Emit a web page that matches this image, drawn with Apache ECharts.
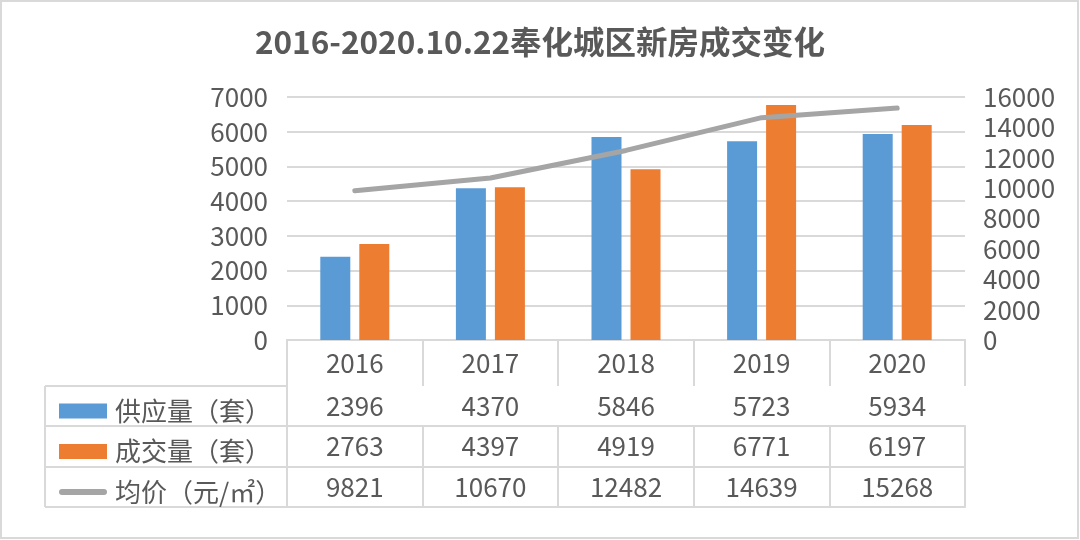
<!DOCTYPE html>
<html>
<head>
<meta charset="utf-8">
<script src="https://cdn.jsdelivr.net/npm/echarts@6/dist/echarts.min.js"></script>
<style>html,body{margin:0;padding:0;background:#fff}#c{width:1080px;height:540px}</style>
</head>
<body>
<div id="c"></div>
<script>
var years = ['2016', '2017', '2018', '2019', '2020'];
var supply = [2396, 4370, 5846, 5723, 5934];
var deals = [2763, 4397, 4919, 6771, 6197];
var price = [9821, 10670, 12482, 14639, 15268];
var nameSupply = '供应量（套）';
var nameDeals = '成交量（套）';
var namePrice = '均价（元/㎡）';
var titleText = '2016-2020.10.22奉化城区新房成交变化';

var FONT = "'Noto Sans CJK SC', 'Noto Sans', sans-serif";
var TXT = '#595959';
var GRID = '#d9d9d9';

function tableAxis(data, offset, tickLen, margin, showLabel) {
  return {
    type: 'category', position: 'bottom', offset: offset, data: data,
    axisLine: { show: true, lineStyle: { color: GRID, width: 2 } },
    axisTick: { show: tickLen > 0, length: tickLen, interval: 0, lineStyle: { color: GRID, width: 2 } },
    axisLabel: { show: showLabel, interval: 0, margin: margin, fontSize: 26, lineHeight: 26, color: TXT, fontFamily: FONT },
    splitLine: { show: false }
  };
}
function plain(v) { return String(v); }

var chart = echarts.init(document.getElementById('c'), null, { renderer: 'canvas' });
chart.setOption({
  backgroundColor: '#fff',
  animation: false,
  textStyle: { fontFamily: FONT },
  title: {
    text: titleText, left: 'center', top: 21,
    textStyle: { fontSize: 31.5, fontWeight: 'bold', color: TXT, fontFamily: FONT }
  },
  legend: {
    orient: 'vertical', left: 54, top: 393, itemWidth: 48, itemHeight: 15, itemGap: 14.5,
    textStyle: { fontSize: 26, color: TXT, fontFamily: FONT, lineHeight: 26, padding: [0, 0, 0, 3] },
    data: [
      { name: nameSupply, icon: 'rect' },
      { name: nameDeals, icon: 'rect' },
      { name: namePrice, icon: 'path://M0,0 M48,15 M3,4.5 L45,4.5 A3,3 0 0 1 45,10.5 L3,10.5 A3,3 0 0 1 3,4.5 Z' }
    ]
  },
  grid: { left: 287, right: 115, top: 97, bottom: 200, containLabel: false },
  xAxis: [
    tableAxis(years, 0, 46, 10, true),
    tableAxis(supply.map(String), 46, 40, 7, true),
    tableAxis(deals.map(String), 86, 41, 7, true),
    tableAxis(price.map(String), 127, 40, 7, true),
    tableAxis(years, 167, 0, 7, false)
  ],
  yAxis: [
    {
      type: 'value', min: 0, max: 7000, interval: 1000,
      axisLine: { show: false }, axisTick: { show: false },
      axisLabel: { fontSize: 26, color: TXT, margin: 19, fontFamily: FONT, formatter: plain },
      splitLine: { lineStyle: { color: GRID, width: 2 } }
    },
    {
      type: 'value', min: 0, max: 16000, interval: 2000,
      axisLine: { show: false }, axisTick: { show: false },
      axisLabel: { fontSize: 26, color: TXT, margin: 18, fontFamily: FONT, formatter: plain },
      splitLine: { show: false }
    }
  ],
  series: [
    { name: nameSupply, type: 'bar', data: supply, barWidth: 30, barGap: '30%', itemStyle: { color: '#5b9bd5' } },
    { name: nameDeals, type: 'bar', data: deals, barWidth: 30, barGap: '30%', itemStyle: { color: '#ed7d31' } },
    { name: namePrice, type: 'line', yAxisIndex: 1, data: price, symbol: 'none', showSymbol: false,
      itemStyle: { color: '#a5a5a5' },
      lineStyle: { color: '#a5a5a5', width: 5, cap: 'round', join: 'round' } }
  ],
  graphic: [
    { type: 'rect', shape: { x: 1, y: 1, width: 1077, height: 537 }, style: { fill: 'none', stroke: GRID, lineWidth: 2 }, silent: true },
    { type: 'line', shape: { x1: 45, y1: 386, x2: 287, y2: 386 }, style: { stroke: GRID, lineWidth: 2 } },
    { type: 'line', shape: { x1: 45, y1: 426, x2: 287, y2: 426 }, style: { stroke: GRID, lineWidth: 2 } },
    { type: 'line', shape: { x1: 45, y1: 467, x2: 287, y2: 467 }, style: { stroke: GRID, lineWidth: 2 } },
    { type: 'line', shape: { x1: 45, y1: 507, x2: 287, y2: 507 }, style: { stroke: GRID, lineWidth: 2 } },
    { type: 'line', shape: { x1: 45, y1: 386, x2: 45, y2: 507 }, style: { stroke: GRID, lineWidth: 2 } },
    { type: 'line', shape: { x1: 287, y1: 386, x2: 287, y2: 507 }, style: { stroke: GRID, lineWidth: 2 } }
  ]
});
</script>
</body>
</html>
